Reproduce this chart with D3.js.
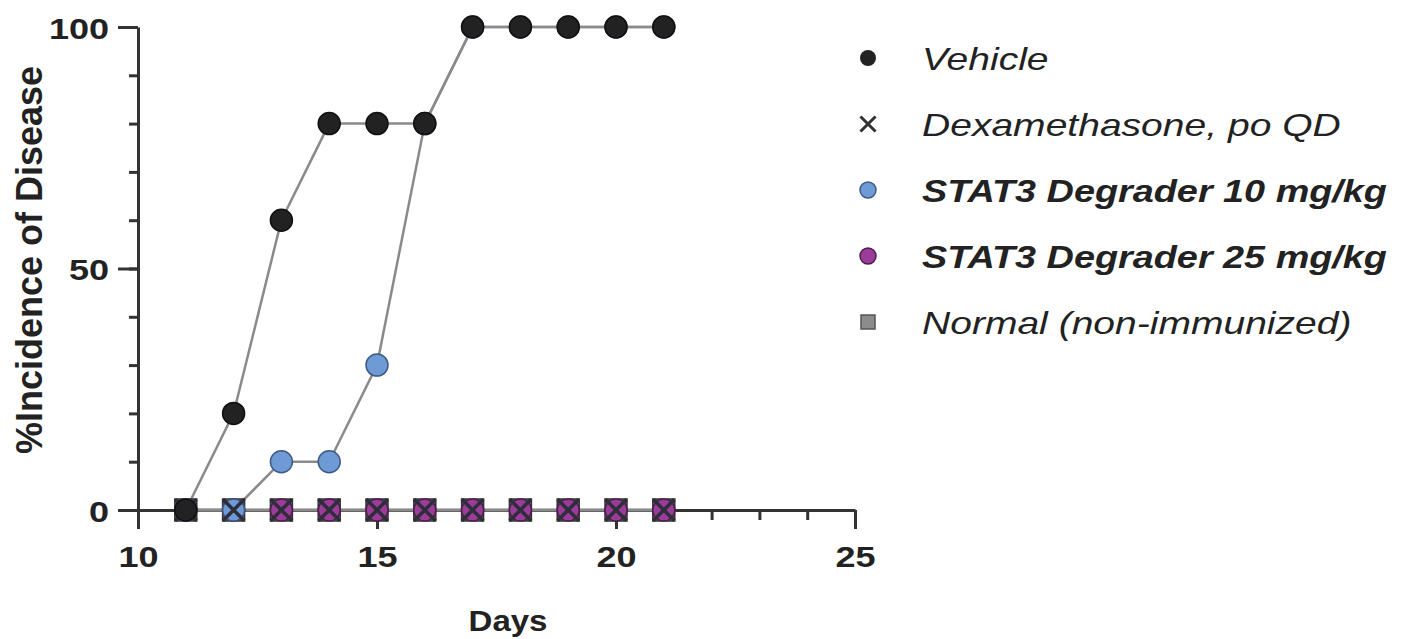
<!DOCTYPE html>
<html>
<head>
<meta charset="utf-8">
<script src="https://cdn.jsdelivr.net/npm/d3@7"></script>
<style>
  body { margin: 0; background: #fff; }
  svg text { font-family: "Liberation Sans", Arial, sans-serif; fill: #222; }
</style>
</head>
<body>
<div id="chart"></div>
<script>
// data
const days = [11, 12, 13, 14, 15, 16, 17, 18, 19, 20, 21];
const vehicle = [0, 20, 60, 80, 80, 80, 100, 100, 100, 100, 100];
const dexamethasone = [0, 0, 0, 0, 0, 0, 0, 0, 0, 0, 0];
const stat3_10 = [0, 0, 10, 10, 30, 80, 100, 100, 100, 100, 100];
const stat3_25 = [0, 0, 0, 0, 0, 0, 0, 0, 0, 0, 0];
const normal = [0, 0, 0, 0, 0, 0, 0, 0, 0, 0, 0];
const seriesNames = ['Vehicle', 'Dexamethasone, po QD', 'STAT3 Degrader 10 mg/kg',
  'STAT3 Degrader 25 mg/kg', 'Normal (non-immunized)'];
const xTicks = [10, 15, 20, 25];
const yTicks = [0, 50, 100];

const W = 1409, H = 639;
const stretch = 1.2; // lettering in the figure is a bit wide

const svg = d3.select('#chart').append('svg')
  .attr('width', W).attr('height', H);

const x = d3.scaleLinear().domain([10, 25]).range([138, 855]);
const y = d3.scaleLinear().domain([0, 100]).range([510, 27]);

const axisColor = '#333';

// y axis: minor ticks every 10, major at 0/50/100
svg.append('g')
  .attr('transform', 'translate(138,0)')
  .call(d3.axisLeft(y).tickValues(d3.range(0, 101, 10)).tickSize(9).tickFormat(''))
  .call(g => g.select('.domain').remove());
const yAx = svg.append('g')
  .attr('transform', 'translate(138,0)')
  .call(d3.axisLeft(y).tickValues(yTicks).tickSize(20).tickSizeOuter(0));

// x axis: minor ticks every day, major every 5
svg.append('g')
  .attr('transform', 'translate(0,510)')
  .call(d3.axisBottom(x).tickValues(d3.range(10, 26, 1)).tickSize(10).tickFormat(''))
  .call(g => g.select('.domain').remove());
const xAx = svg.append('g')
  .attr('transform', 'translate(0,510)')
  .call(d3.axisBottom(x).tickValues(xTicks).tickSize(19).tickSizeOuter(0));

svg.selectAll('.tick line').attr('stroke', axisColor).attr('stroke-width', 3);
svg.selectAll('.domain').attr('stroke', axisColor).attr('stroke-width', 3);

yAx.selectAll('.tick text')
  .attr('x', null).attr('dy', null)
  .attr('transform', 'translate(-29,11) scale(' + stretch + ',1)')
  .style('font-size', '30px').style('font-weight', 'bold');
xAx.selectAll('.tick text')
  .attr('y', null).attr('dy', null)
  .attr('transform', 'translate(0,57) scale(' + stretch + ',1)')
  .style('font-size', '30px').style('font-weight', 'bold');

// axis titles
svg.append('text')
  .attr('transform', 'translate(508,631) scale(1.1,1)')
  .attr('text-anchor', 'middle')
  .style('font-size', '30px').style('font-weight', 'bold')
  .text('Days');
svg.append('text')
  .attr('transform', 'translate(42,260) rotate(-90)')
  .attr('text-anchor', 'middle')
  .style('font-size', '36px').style('font-weight', 'bold')
  .text('%Incidence of Disease');

// connecting lines
const series = [vehicle, dexamethasone, stat3_10, stat3_25, normal];
const line = d3.line().x((d, i) => x(days[i])).y(d => y(d));
svg.append('g').selectAll('path')
  .data(series)
  .enter().append('path')
  .attr('d', line)
  .attr('fill', 'none')
  .attr('stroke', '#8a8a8a')
  .attr('stroke-width', 2.5);

// markers, drawn back to front
const sq = 22, r = 11;
svg.append('g').selectAll('rect')
  .data(normal)
  .enter().append('rect')
  .attr('x', (d, i) => x(days[i]) - sq / 2)
  .attr('y', d => y(d) - sq / 2)
  .attr('width', sq).attr('height', sq)
  .attr('fill', '#6a6a6a').attr('stroke', '#333').attr('stroke-width', 1.5);

svg.append('g').selectAll('circle')
  .data(stat3_25)
  .enter().append('circle')
  .attr('cx', (d, i) => x(days[i]))
  .attr('cy', d => y(d))
  .attr('r', r)
  .attr('fill', '#9c3c9a').attr('stroke', '#4a2048').attr('stroke-width', 1.5);

svg.append('g').selectAll('circle')
  .data(stat3_10)
  .enter().append('circle')
  .attr('cx', (d, i) => x(days[i]))
  .attr('cy', d => y(d))
  .attr('r', r)
  .attr('fill', '#6e9bd6').attr('stroke', '#3e5a84').attr('stroke-width', 1.5);

const cross = d3.symbol().type(d3.symbolX).size(300);
svg.append('g').selectAll('path')
  .data(dexamethasone)
  .enter().append('path')
  .attr('transform', (d, i) => 'translate(' + x(days[i]) + ',' + y(d) + ')')
  .attr('d', cross)
  .attr('fill', 'none')
  .attr('stroke', '#2e2e3a').attr('stroke-width', 3.5);

svg.append('g').selectAll('circle')
  .data(vehicle)
  .enter().append('circle')
  .attr('cx', (d, i) => x(days[i]))
  .attr('cy', d => y(d))
  .attr('r', r)
  .attr('fill', '#222').attr('stroke', '#111').attr('stroke-width', 1.5);

// legend
const legend = svg.append('g');
const rowY = i => 58 + i * 66;
const lx = 868;
legend.append('circle').attr('cx', lx).attr('cy', rowY(0)).attr('r', 8)
  .attr('fill', '#222');
legend.append('path')
  .attr('transform', 'translate(' + lx + ',' + rowY(1) + ')')
  .attr('d', d3.symbol().type(d3.symbolX).size(150))
  .attr('fill', 'none').attr('stroke', '#333').attr('stroke-width', 3);
legend.append('circle').attr('cx', lx).attr('cy', rowY(2)).attr('r', 8)
  .attr('fill', '#6e9bd6').attr('stroke', '#3e5a84').attr('stroke-width', 1.5);
legend.append('circle').attr('cx', lx).attr('cy', rowY(3)).attr('r', 8)
  .attr('fill', '#9c3c9a').attr('stroke', '#4a2048').attr('stroke-width', 1.5);
legend.append('rect').attr('x', lx - 7).attr('y', rowY(4) - 7)
  .attr('width', 14).attr('height', 14)
  .attr('fill', '#8c8c8c').attr('stroke', '#555').attr('stroke-width', 1.5);

legend.selectAll('text')
  .data(seriesNames)
  .enter().append('text')
  .attr('transform', (d, i) => 'translate(922,' + (rowY(i) + 12) + ') scale(1.22,1)')
  .style('font-size', d => d.startsWith('STAT3') ? '31px' : '32px')
  .style('font-style', 'italic')
  .style('font-weight', d => d.startsWith('STAT3') ? 'bold' : 'normal')
  .text(d => d);
</script>
</body>
</html>
